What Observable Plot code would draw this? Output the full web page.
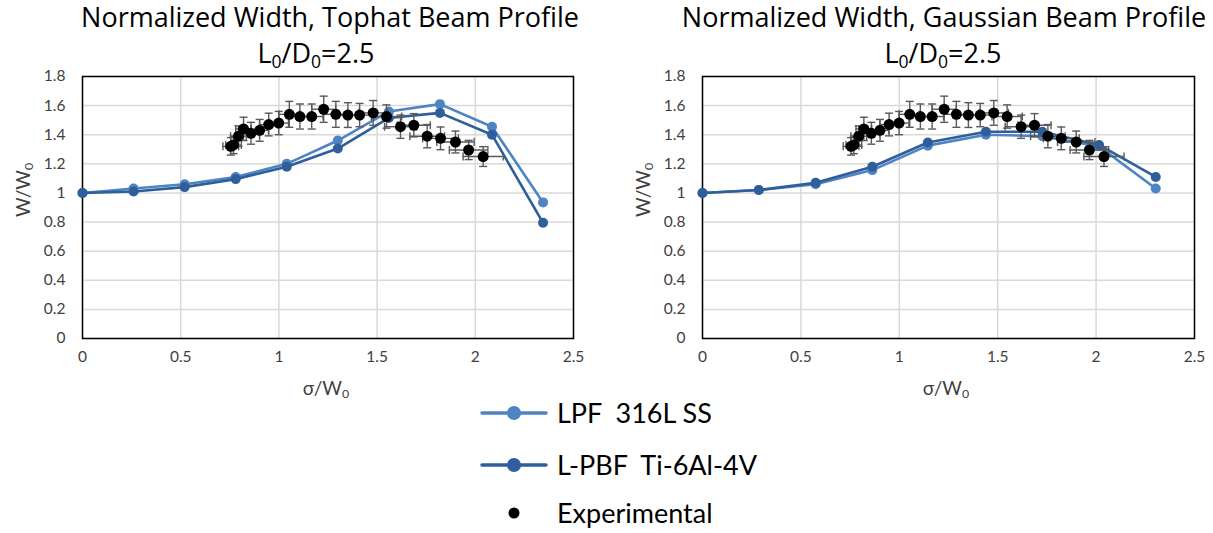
<!DOCTYPE html>
<html>
<head>
<meta charset="utf-8">
<script src="https://cdn.jsdelivr.net/npm/d3@7"></script>
<script src="https://cdn.jsdelivr.net/npm/@observablehq/plot@0.6"></script>
<style>
  html, body { margin: 0; padding: 0; background: #fff; }
  body { width: 1213px; height: 533px; position: relative; overflow: hidden; font-family: Lato, "Open Sans", sans-serif; color: #000; }
  .abs { position: absolute; }
  .title { position: absolute; white-space: nowrap; font-family: "Open Sans", Lato, sans-serif; font-size: 27px; transform: translateX(-50%); line-height: 1.25; }
  .axlab { position: absolute; white-space: nowrap; font-size: 19px; color: #404040; line-height: 1.2; }
  sub { font-size: 0.65em; vertical-align: -0.3em; line-height: 0; }
  .leg { position: absolute; white-space: nowrap; font-size: 27px; line-height: 1.2; }
</style>
</head>
<body>
<div id="left" class="abs" style="left:0;top:60px;"></div>
<div id="right" class="abs" style="left:620px;top:60px;"></div>

<div class="title" style="left:330px;top:0px;">Normalized Width, Tophat Beam Profile</div>
<div class="title" style="left:316px;top:36px;">L<sub>0</sub>/D<sub>0</sub>=2.5</div>
<div class="title" style="left:944px;top:0px;">Normalized Width, Gaussian Beam Profile</div>
<div class="title" style="left:943px;top:36px;">L<sub>0</sub>/D<sub>0</sub>=2.5</div>

<div class="axlab" style="left:23px;top:190px;transform:translate(-50%,-50%) rotate(-90deg);">W/W<sub>0</sub></div>
<div class="axlab" style="left:643px;top:190px;transform:translate(-50%,-50%) rotate(-90deg);">W/W<sub>0</sub></div>
<div class="axlab" style="left:326px;top:388px;transform:translate(-50%,-50%);">σ/W<sub>0</sub></div>
<div class="axlab" style="left:946px;top:388px;transform:translate(-50%,-50%);">σ/W<sub>0</sub></div>

<svg class="abs" style="left:470px;top:395px;" width="90" height="135">
  <line x1="12" y1="18" x2="76" y2="18" stroke="#4e84c4" stroke-width="3.5" stroke-linecap="round"/>
  <circle cx="44" cy="18" r="7" fill="#4e84c4"/>
  <line x1="12" y1="70" x2="76" y2="70" stroke="#2e5f9b" stroke-width="3.5" stroke-linecap="round"/>
  <circle cx="44" cy="70" r="7" fill="#2e5f9b"/>
  <circle cx="44" cy="118" r="5.5" fill="#000"/>
</svg>
<div class="leg" style="left:557px;top:397px;">LPF&nbsp;&nbsp;316L SS</div>
<div class="leg" style="left:557px;top:449px;">L-PBF&nbsp;&nbsp;Ti-6Al-4V</div>
<div class="leg" style="left:557px;top:497px;">Experimental</div>

<script>
// ---- data ----
const xTicks = [0, 0.5, 1, 1.5, 2, 2.5];
const yTicks = [0, 0.2, 0.4, 0.6, 0.8, 1, 1.2, 1.4, 1.6, 1.8];

// Tophat beam profile
const tophatX   = [0, 0.26, 0.52, 0.78, 1.04, 1.30, 1.56, 1.82, 2.085, 2.345];
const tophatLPF = [1.0, 1.03, 1.06, 1.11, 1.20, 1.36, 1.56, 1.61, 1.455, 0.935];
const tophatPBF = [1.0, 1.01, 1.04, 1.095, 1.18, 1.305, 1.515, 1.55, 1.40, 0.795];

// Gaussian beam profile
const gaussX   = [0, 0.286, 0.575, 0.863, 1.145, 1.44, 1.727, 2.015, 2.303];
const gaussLPF = [1.0, 1.02, 1.06, 1.157, 1.325, 1.40, 1.39, 1.32, 1.03];
const gaussPBF = [1.0, 1.02, 1.07, 1.18, 1.347, 1.42, 1.42, 1.33, 1.11];

// Experimental
const expX    = [0.755, 0.769, 0.794, 0.82, 0.858, 0.902, 0.948, 0.999, 1.053, 1.107, 1.167, 1.228, 1.29, 1.351, 1.411, 1.48, 1.548, 1.619, 1.687, 1.755, 1.823, 1.899, 1.966, 2.04];
const expY    = [1.32, 1.33, 1.39, 1.44, 1.41, 1.43, 1.47, 1.48, 1.54, 1.525, 1.525, 1.575, 1.54, 1.535, 1.535, 1.55, 1.525, 1.455, 1.465, 1.39, 1.375, 1.35, 1.295, 1.25];
const expYErr = [0.06, 0.06, 0.07, 0.08, 0.075, 0.075, 0.078, 0.08, 0.089, 0.086, 0.086, 0.09, 0.089, 0.085, 0.08, 0.085, 0.08, 0.08, 0.08, 0.08, 0.078, 0.075, 0.066, 0.068];
const expXErr = [0.04, 0.04, 0.04, 0.04, 0.043, 0.045, 0.047, 0.05, 0.053, 0.055, 0.058, 0.061, 0.064, 0.068, 0.07, 0.074, 0.077, 0.081, 0.084, 0.088, 0.091, 0.095, 0.098, 0.102];

const LIGHT = "#4e84c4", DARK = "#2e5f9b", ERR = "#595959";

const exp = expX.map((x, i) => ({x, y: expY[i], ye: expYErr[i], xe: expXErr[i]}));

const capH = {draw(ctx, size) { const r = Math.sqrt(size / Math.PI); ctx.moveTo(-r, 0); ctx.lineTo(r, 0); }};
const capV = {draw(ctx, size) { const r = Math.sqrt(size / Math.PI); ctx.moveTo(0, -r); ctx.lineTo(0, r); }};

function chart(xs, lpf, pbf, width, mLeft, mRight) {
  const sLPF = xs.map((x, i) => ({x, y: lpf[i]}));
  const sPBF = xs.map((x, i) => ({x, y: pbf[i]}));
  return Plot.plot({
    width, height: 345,
    marginLeft: mLeft, marginRight: mRight, marginTop: 16, marginBottom: 67,
    style: {fontFamily: "Lato, 'Open Sans', sans-serif", fontSize: "15.5px", color: "#404040", background: "white", overflow: "visible"},
    x: {domain: [0, 2.5], ticks: xTicks, tickFormat: d => String(d), tickSize: 0, tickPadding: 12, label: null},
    y: {domain: [0, 1.8], ticks: yTicks, tickFormat: d => String(d), tickSize: 0, tickPadding: 17, label: null},
    marks: [
      Plot.gridX(xTicks, {stroke: "#d9d9d9", strokeOpacity: 1, strokeWidth: 1.5}),
      Plot.gridY(yTicks, {stroke: "#d9d9d9", strokeOpacity: 1, strokeWidth: 1.5}),
      Plot.frame({stroke: "black", strokeWidth: 1.5}),
      Plot.line(sLPF, {x: "x", y: "y", stroke: LIGHT, strokeWidth: 2.6}),
      Plot.dot(sLPF, {x: "x", y: "y", r: 5, fill: LIGHT}),
      Plot.line(sPBF, {x: "x", y: "y", stroke: DARK, strokeWidth: 2.6}),
      Plot.dot(sPBF, {x: "x", y: "y", r: 5, fill: DARK}),
      Plot.ruleX(exp, {x: "x", y1: d => d.y - d.ye, y2: d => d.y + d.ye, stroke: ERR, strokeWidth: 1.4}),
      Plot.ruleY(exp, {y: "y", x1: d => d.x - d.xe, x2: d => d.x + d.xe, stroke: ERR, strokeWidth: 1.4}),
      Plot.dot(exp, {x: "x", y: d => d.y - d.ye, symbol: capH, r: 4, stroke: ERR, fill: "none", strokeWidth: 1.4}),
      Plot.dot(exp, {x: "x", y: d => d.y + d.ye, symbol: capH, r: 4, stroke: ERR, fill: "none", strokeWidth: 1.4}),
      Plot.dot(exp, {x: d => d.x - d.xe, y: "y", symbol: capV, r: 4, stroke: ERR, fill: "none", strokeWidth: 1.4}),
      Plot.dot(exp, {x: d => d.x + d.xe, y: "y", symbol: capV, r: 4, stroke: ERR, fill: "none", strokeWidth: 1.4}),
      Plot.dot(exp, {x: "x", y: "y", r: 5.5, fill: "black"})
    ]
  });
}

document.getElementById("left").appendChild(chart(tophatX, tophatLPF, tophatPBF, 600, 82, 27));
document.getElementById("right").appendChild(chart(gaussX, gaussLPF, gaussPBF, 593, 82, 19));
</script>
</body>
</html>
